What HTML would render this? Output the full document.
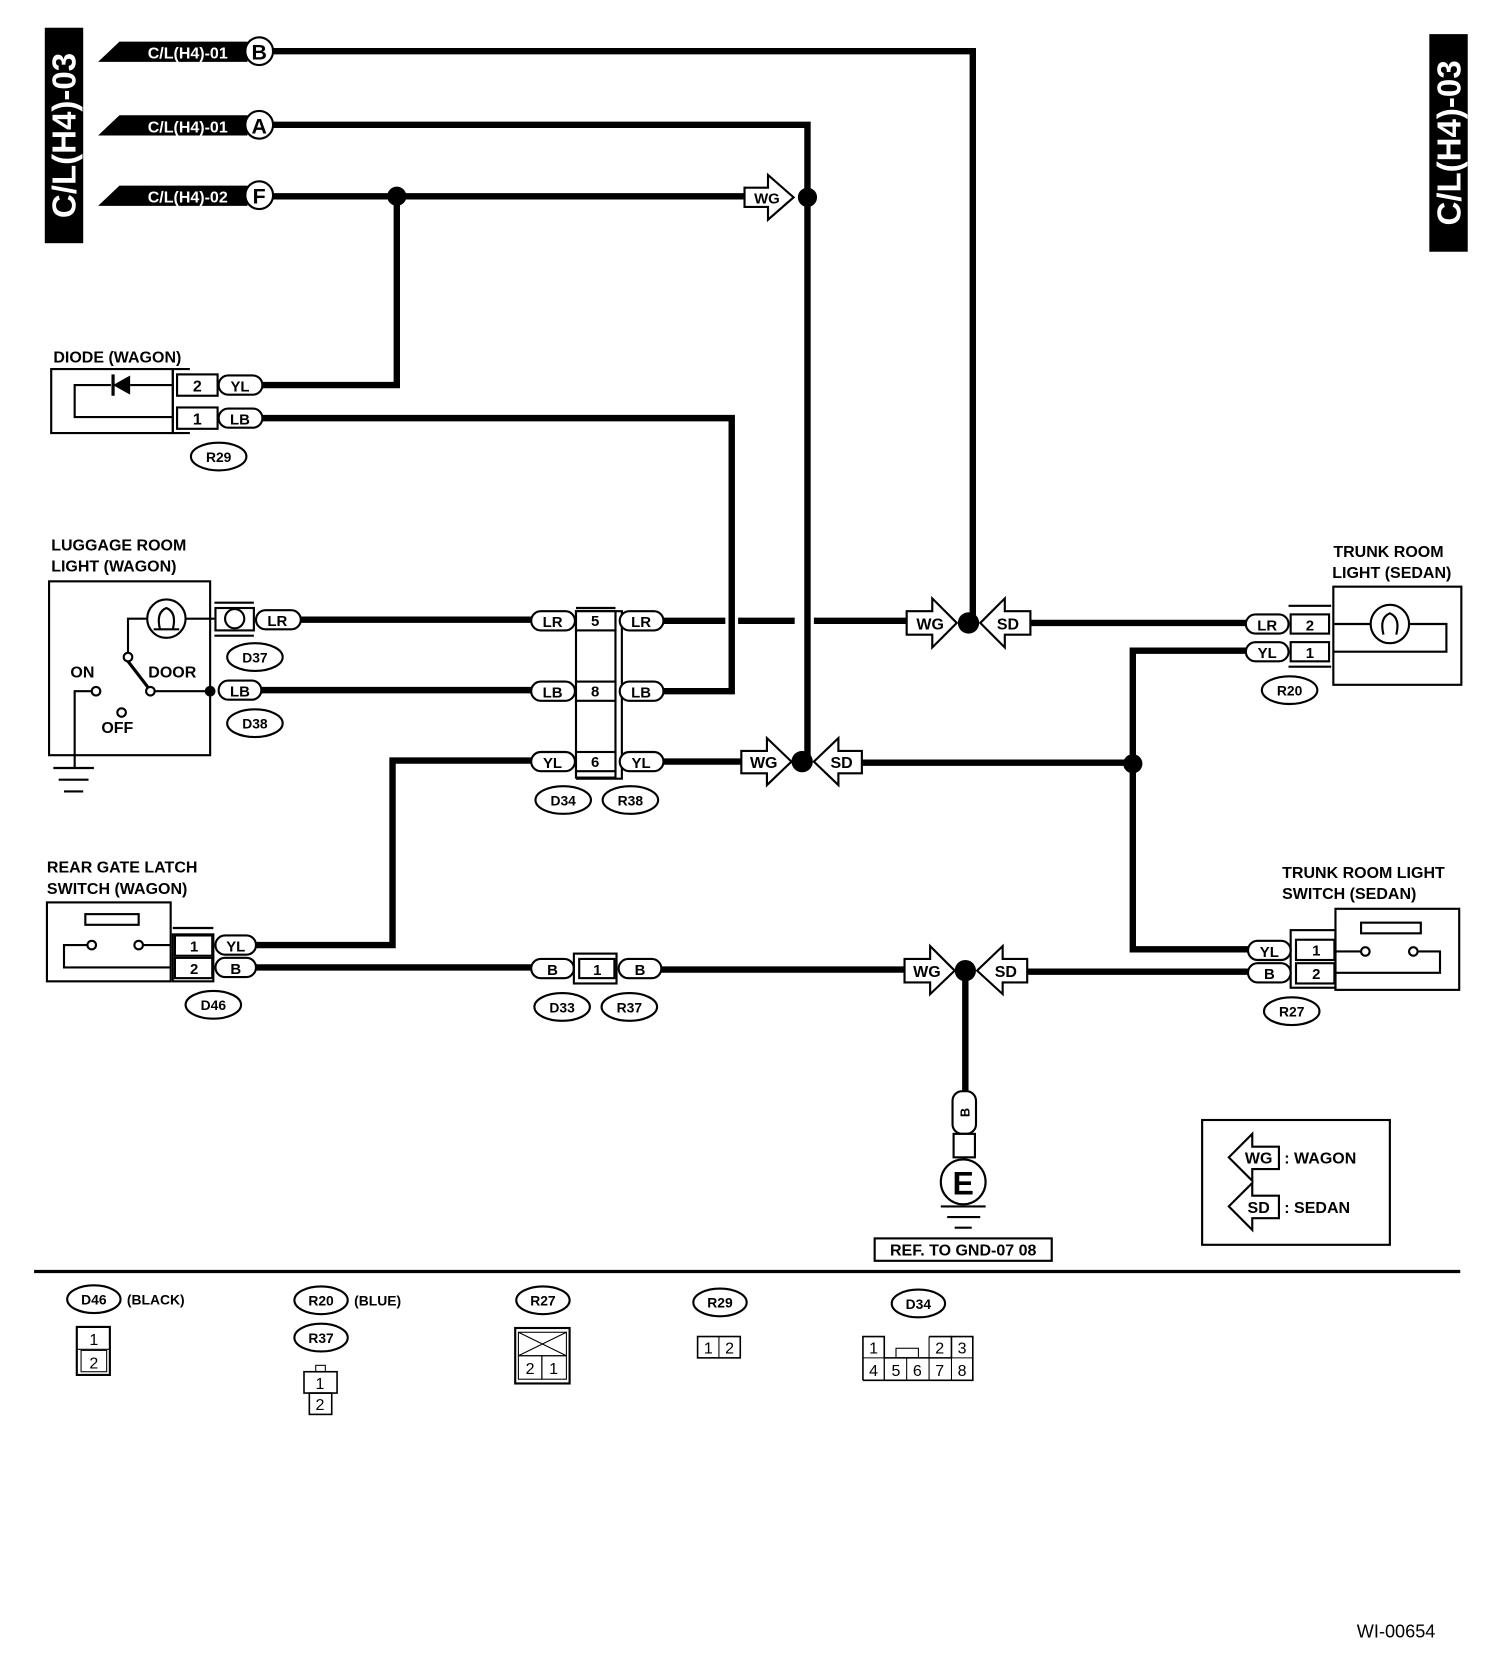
<!DOCTYPE html>
<html><head><meta charset="utf-8"><style>
html,body{margin:0;padding:0;background:#fff}
svg{display:block}
text{font-family:"Liberation Sans",Arial,sans-serif;font-weight:bold;fill:#000}
.p{fill:#fff;stroke:#000;stroke-width:2}
.w{fill:none;stroke:#000;stroke-width:6}
.t{fill:none;stroke:#000;stroke-width:2}
.n{font-weight:normal}
</style></head><body>
<svg width="1504" height="1668" viewBox="0 0 1410 1563.75" xmlns="http://www.w3.org/2000/svg">
<!-- side bars -->
<rect x="42" y="26" width="36" height="202" fill="#000"/>
<text transform="translate(71,127) rotate(-90)" text-anchor="middle" font-size="31" style="fill:#fff">C/L(H4)-03</text>
<rect x="1340" y="32" width="36" height="204" fill="#000"/>
<text transform="translate(1369,134) rotate(-90)" text-anchor="middle" font-size="31" style="fill:#fff">C/L(H4)-03</text>

<!-- flags -->
<g>
<polygon points="92,58 112,39 232,39 232,58" fill="#000"/>
<text x="176" y="55" text-anchor="middle" font-size="15" style="fill:#fff">C/L(H4)-01</text>
<circle cx="243" cy="48" r="13" class="p"/><text x="243" y="56" text-anchor="middle" font-size="20">B</text>
<polygon points="92,127 112,108 232,108 232,127" fill="#000"/>
<text x="176" y="124" text-anchor="middle" font-size="15" style="fill:#fff">C/L(H4)-01</text>
<circle cx="243" cy="117" r="13" class="p"/><text x="243" y="125" text-anchor="middle" font-size="20">A</text>
<polygon points="92,193 112,174 232,174 232,193" fill="#000"/>
<text x="176" y="190" text-anchor="middle" font-size="15" style="fill:#fff">C/L(H4)-02</text>
<circle cx="243" cy="183" r="13" class="p"/><text x="243" y="191" text-anchor="middle" font-size="20">F</text>
</g>

<!-- main wires -->
<polyline class="w" points="256,48 912,48 912,584"/>
<polyline class="w" points="256,117 757,117 757,714"/>
<polyline class="w" points="256,184 700,184"/>
<polyline class="w" points="372,184 372,361 245,361"/>
<polyline class="w" points="245,392 686,392 686,648 622,648"/>
<polyline class="w" points="282,581 498,581"/>
<polyline class="w" points="622,582 680,582"/>
<polyline class="w" points="692,582 745,582"/>
<polyline class="w" points="763,582 850,582"/>
<polyline class="w" points="965,584 1168,584"/>
<polyline class="w" points="245,647 498,647"/>
<polyline class="w" points="498,713 368,713 368,886 240,886"/>
<polyline class="w" points="622,714 695,714"/>
<polyline class="w" points="808,715 1062,715"/>
<polyline class="w" points="1168,610 1062,610 1062,890 1172,890"/>
<polyline class="w" points="240,907 498,907"/>
<polyline class="w" points="620,909 848,909"/>
<polyline class="w" points="962,911 1172,911"/>
<polyline class="w" points="905,911 905,1025"/>

<!-- dots -->
<circle cx="372" cy="184" r="9"/>
<circle cx="757" cy="185" r="9"/>
<circle cx="908" cy="584" r="10"/>
<circle cx="752" cy="714" r="10"/>
<circle cx="1062" cy="716" r="9"/>
<circle cx="905" cy="910" r="10"/>

<!-- WG/SD arrows -->
<g font-size="14">
<polygon class="p" points="698,176 720,176 720,164 744,185 720,206 720,194 698,194"/><text x="719" y="191" text-anchor="middle">WG</text>
<polygon class="p" points="850,573 874,573 874,561 897,584 874,607 874,595 850,595"/><text x="872" y="590" text-anchor="middle" font-size="15">WG</text>
<polygon class="p" points="966,573 942,573 942,561 919,584 942,607 942,595 966,595"/><text x="945" y="590" text-anchor="middle" font-size="15">SD</text>
<polygon class="p" points="695,704 719,704 719,692 742,714 719,736 719,725 695,725"/><text x="716" y="720" text-anchor="middle" font-size="15">WG</text>
<polygon class="p" points="808,704 786,704 786,692 763,714 786,736 786,725 808,725"/><text x="789" y="720" text-anchor="middle" font-size="15">SD</text>
<polygon class="p" points="848,899 872,899 872,887 895,910 872,932 872,921 848,921"/><text x="869" y="916" text-anchor="middle" font-size="15">WG</text>
<polygon class="p" points="963,899 940,899 940,887 916,910 940,932 940,921 963,921"/><text x="943" y="916" text-anchor="middle" font-size="15">SD</text>
</g>

<!-- Diode -->
<text x="50" y="340" font-size="15">DIODE (WAGON)</text>
<rect x="48" y="346" width="114" height="60" class="t"/>
<polyline class="t" points="162,406 162,346 178,346"/>
<polyline class="t" points="162,406 178,406"/>
<rect x="166" y="351" width="38" height="20" class="p"/><text x="185" y="367" text-anchor="middle" font-size="15">2</text>
<rect x="166" y="382" width="38" height="20" class="p"/><text x="185" y="398" text-anchor="middle" font-size="15">1</text>
<polyline class="t" points="162,391 70,391 70,361 104,361"/>
<polygon points="106,361 122,352 122,370"/>
<line x1="106" y1="351" x2="106" y2="371" stroke="#000" stroke-width="3"/>
<line x1="122" y1="361" x2="162" y2="361" stroke="#000" stroke-width="2"/>
<rect x="205" y="352" width="41" height="18" rx="9" class="p"/><text x="225" y="367" text-anchor="middle" font-size="14">YL</text>
<rect x="205" y="383" width="41" height="18" rx="9" class="p"/><text x="225" y="398" text-anchor="middle" font-size="14">LB</text>
<ellipse cx="205" cy="428" rx="26" ry="13" class="p"/><text x="205" y="433" text-anchor="middle" font-size="13">R29</text>

<!-- Luggage room -->
<text x="48" y="516" font-size="15">LUGGAGE ROOM</text>
<text x="48" y="536" font-size="15">LIGHT (WAGON)</text>
<rect x="46" y="545" width="151" height="163" class="t"/>
<circle cx="156" cy="580" r="18" class="t"/>
<path d="M150,590 Q146,574 156,570 Q166,574 162,590" class="t"/>
<path d="M144,590 L168,590" class="t"/>
<polyline class="t" points="138,580 120,580 120,612"/>
<line x1="174" y1="580" x2="201" y2="580" stroke="#000" stroke-width="2"/>
<circle cx="120" cy="616" r="4" class="p"/>
<line x1="120" y1="620" x2="140" y2="646" stroke="#000" stroke-width="3"/>
<circle cx="141" cy="648" r="4" class="p"/>
<line x1="145" y1="648" x2="197" y2="648" stroke="#000" stroke-width="2"/>
<circle cx="197" cy="648" r="5"/>
<circle cx="90" cy="648" r="4" class="p"/>
<polyline class="t" points="86,648 70,648 70,720"/>
<circle cx="114" cy="668" r="4" class="p"/>
<text x="66" y="635" font-size="15">ON</text>
<text x="139" y="635" font-size="15">DOOR</text>
<text x="95" y="687" font-size="15">OFF</text>
<line x1="50" y1="720" x2="88" y2="720" stroke="#000" stroke-width="2"/>
<line x1="55" y1="731" x2="83" y2="731" stroke="#000" stroke-width="2"/>
<line x1="60" y1="742" x2="78" y2="742" stroke="#000" stroke-width="2"/>
<polyline class="t" points="201,565 238,565"/>
<polyline class="t" points="201,596 238,596"/>
<rect x="202" y="570" width="36" height="21" class="p"/>
<circle cx="220" cy="580" r="9" class="t"/>
<rect x="240" y="572" width="42" height="18" rx="9" class="p"/><text x="260" y="587" text-anchor="middle" font-size="14">LR</text>
<ellipse cx="239" cy="616" rx="26" ry="13" class="p"/><text x="239" y="621" text-anchor="middle" font-size="13">D37</text>
<rect x="205" y="638" width="40" height="18" rx="9" class="p"/><text x="225" y="653" text-anchor="middle" font-size="14">LB</text>
<ellipse cx="239" cy="678" rx="26" ry="13" class="p"/><text x="239" y="683" text-anchor="middle" font-size="13">D38</text>

<!-- middle connector -->
<polyline class="t" points="540,570 577,570"/>
<rect x="540" y="573" width="37" height="156" class="t"/>
<polyline class="t" points="577,573 583,573 583,730 540,730"/>
<rect x="540" y="573" width="37" height="18" class="p"/><text x="558" y="587" text-anchor="middle" font-size="14">5</text>
<rect x="540" y="639" width="37" height="18" class="p"/><text x="558" y="653" text-anchor="middle" font-size="14">8</text>
<rect x="540" y="705" width="37" height="18" class="p"/><text x="558" y="719" text-anchor="middle" font-size="14">6</text>
<g font-size="14" text-anchor="middle">
<rect x="498" y="573" width="41" height="18" rx="9" class="p"/><text x="518" y="588">LR</text>
<rect x="581" y="573" width="41" height="18" rx="9" class="p"/><text x="601" y="588">LR</text>
<rect x="498" y="639" width="41" height="18" rx="9" class="p"/><text x="518" y="654">LB</text>
<rect x="581" y="639" width="41" height="18" rx="9" class="p"/><text x="601" y="654">LB</text>
<rect x="498" y="705" width="41" height="18" rx="9" class="p"/><text x="518" y="720">YL</text>
<rect x="581" y="705" width="41" height="18" rx="9" class="p"/><text x="601" y="720">YL</text>
</g>
<ellipse cx="528" cy="750" rx="26" ry="13" class="p"/><text x="528" y="755" text-anchor="middle" font-size="13">D34</text>
<ellipse cx="591" cy="750" rx="26" ry="13" class="p"/><text x="591" y="755" text-anchor="middle" font-size="13">R38</text>

<!-- trunk room light -->
<text x="1250" y="522" font-size="15">TRUNK ROOM</text>
<text x="1249" y="542" font-size="15">LIGHT (SEDAN)</text>
<rect x="1250" y="550" width="120" height="92" class="t"/>
<circle cx="1303" cy="585" r="18" class="t"/>
<path d="M1297,595 Q1293,579 1303,575 Q1313,579 1309,595" class="t"/>
<polyline class="t" points="1250,585 1285,585"/>
<polyline class="t" points="1321,585 1356,585 1356,611 1250,611"/>
<polyline class="t" points="1208,568 1248,568"/>
<polyline class="t" points="1208,625 1248,625"/>
<rect x="1210" y="576" width="36" height="18" class="p"/><text x="1228" y="591" text-anchor="middle" font-size="14">2</text>
<rect x="1210" y="602" width="36" height="18" class="p"/><text x="1228" y="617" text-anchor="middle" font-size="14">1</text>
<rect x="1168" y="576" width="40" height="18" rx="9" class="p"/><text x="1188" y="591" text-anchor="middle" font-size="14">LR</text>
<rect x="1168" y="602" width="40" height="18" rx="9" class="p"/><text x="1188" y="617" text-anchor="middle" font-size="14">YL</text>
<ellipse cx="1209" cy="647" rx="26" ry="13" class="p"/><text x="1209" y="652" text-anchor="middle" font-size="13">R20</text>

<!-- rear gate latch -->
<text x="44" y="818" font-size="15">REAR GATE LATCH</text>
<text x="44" y="838" font-size="15">SWITCH (WAGON)</text>
<rect x="44" y="846" width="116" height="74" class="t"/>
<rect x="80" y="857" width="50" height="10" class="t"/>
<circle cx="86" cy="886" r="4" class="p"/><circle cx="130" cy="886" r="4" class="p"/>
<polyline class="t" points="82,886 60,886 60,907 160,907"/>
<line x1="134" y1="886" x2="160" y2="886" stroke="#000" stroke-width="2"/>
<polyline class="t" points="162,870 200,870"/>
<rect x="162" y="876" width="38" height="44" class="t"/>
<rect x="164" y="877" width="35" height="19" class="p"/><text x="182" y="892" text-anchor="middle" font-size="14">1</text>
<rect x="164" y="898" width="35" height="19" class="p"/><text x="182" y="913" text-anchor="middle" font-size="14">2</text>
<rect x="202" y="877" width="38" height="18" rx="9" class="p"/><text x="221" y="892" text-anchor="middle" font-size="14">YL</text>
<rect x="202" y="898" width="38" height="18" rx="9" class="p"/><text x="221" y="913" text-anchor="middle" font-size="14">B</text>
<ellipse cx="200" cy="942" rx="26" ry="13" class="p"/><text x="200" y="947" text-anchor="middle" font-size="13">D46</text>

<!-- D33/R37 -->
<rect x="498" y="899" width="40" height="18" rx="9" class="p"/><text x="518" y="914" text-anchor="middle" font-size="14">B</text>
<rect x="538" y="894" width="40" height="28" class="t"/>
<rect x="543" y="899" width="33" height="18" class="p"/><text x="560" y="914" text-anchor="middle" font-size="14">1</text>
<rect x="580" y="899" width="40" height="18" rx="9" class="p"/><text x="600" y="914" text-anchor="middle" font-size="14">B</text>
<ellipse cx="527" cy="944" rx="26" ry="13" class="p"/><text x="527" y="949" text-anchor="middle" font-size="13">D33</text>
<ellipse cx="590" cy="944" rx="26" ry="13" class="p"/><text x="590" y="949" text-anchor="middle" font-size="13">R37</text>

<!-- trunk room light switch -->
<text x="1202" y="823" font-size="15">TRUNK ROOM LIGHT</text>
<text x="1202" y="843" font-size="15">SWITCH (SEDAN)</text>
<rect x="1252" y="852" width="116" height="76" class="t"/>
<rect x="1276" y="865" width="56" height="10" class="t"/>
<circle cx="1280" cy="892" r="4" class="p"/><circle cx="1325" cy="892" r="4" class="p"/>
<line x1="1252" y1="892" x2="1276" y2="892" stroke="#000" stroke-width="2"/>
<polyline class="t" points="1329,892 1350,892 1350,912 1252,912"/>
<rect x="1210" y="872" width="42" height="54" class="t"/>
<rect x="1215" y="881" width="36" height="19" class="p"/><text x="1234" y="896" text-anchor="middle" font-size="14">1</text>
<rect x="1215" y="903" width="36" height="19" class="p"/><text x="1234" y="918" text-anchor="middle" font-size="14">2</text>
<rect x="1170" y="882" width="40" height="18" rx="9" class="p"/><text x="1190" y="897" text-anchor="middle" font-size="14">YL</text>
<rect x="1170" y="903" width="40" height="18" rx="9" class="p"/><text x="1190" y="918" text-anchor="middle" font-size="14">B</text>
<ellipse cx="1211" cy="948" rx="26" ry="13" class="p"/><text x="1211" y="953" text-anchor="middle" font-size="13">R27</text>

<!-- ground E -->
<rect x="893" y="1023" width="22" height="40" rx="9" class="p"/>
<text transform="translate(909,1043) rotate(-90)" text-anchor="middle" font-size="12">B</text>
<rect x="894" y="1063" width="20" height="22" class="p"/>
<line x1="904" y1="1085" x2="904" y2="1088" stroke="#000" stroke-width="2"/>
<circle cx="903" cy="1108" r="21" class="p"/>
<text x="903" y="1120" text-anchor="middle" font-size="30">E</text>
<line x1="882" y1="1131" x2="924" y2="1131" stroke="#000" stroke-width="2"/>
<line x1="888" y1="1141" x2="919" y2="1141" stroke="#000" stroke-width="2"/>
<line x1="895" y1="1151" x2="911" y2="1151" stroke="#000" stroke-width="2"/>
<rect x="820" y="1161" width="166" height="21" class="t"/>
<text x="903" y="1177" text-anchor="middle" font-size="15">REF. TO GND-07 08</text>

<!-- legend -->
<rect x="1127" y="1050" width="176" height="117" class="t"/>
<polygon class="p" points="1199,1075 1174,1075 1174,1063 1152,1085 1174,1107 1174,1096 1199,1096"/>
<text x="1180" y="1091" text-anchor="middle" font-size="15">WG</text>
<text x="1204" y="1091" font-size="15">: WAGON</text>
<polygon class="p" points="1199,1121 1174,1121 1174,1109 1152,1131 1174,1153 1174,1142 1199,1142"/>
<text x="1180" y="1137" text-anchor="middle" font-size="15">SD</text>
<text x="1204" y="1137" font-size="15">: SEDAN</text>

<line x1="32" y1="1192" x2="1369" y2="1192" stroke="#000" stroke-width="3"/>

<!-- bottom connector views -->
<g font-size="13">
<ellipse cx="88" cy="1218" rx="25" ry="13" class="p"/><text x="88" y="1223" text-anchor="middle">D46</text>
<text x="119" y="1223">(BLACK)</text>
<rect x="72" y="1244" width="31" height="45" class="t"/><line x1="72" y1="1265" x2="103" y2="1265" stroke="#000" stroke-width="1"/>
<rect x="76" y="1266" width="24" height="20" class="t" style="stroke-width:1"/>
<text x="88" y="1261" text-anchor="middle" class="n" font-size="15">1</text><text x="88" y="1283" text-anchor="middle" class="n" font-size="15">2</text>

<ellipse cx="301" cy="1219" rx="25" ry="13" class="p"/><text x="301" y="1224" text-anchor="middle">R20</text>
<text x="332" y="1224">(BLUE)</text>
<ellipse cx="301" cy="1254" rx="25" ry="13" class="p"/><text x="301" y="1259" text-anchor="middle">R37</text>
<rect x="296" y="1280" width="9" height="6" class="t" style="stroke-width:1"/>
<rect x="285" y="1286" width="31" height="20" class="t" style="stroke-width:1.5"/>
<rect x="290" y="1306" width="21" height="20" class="t" style="stroke-width:1.5"/>
<text x="300" y="1302" text-anchor="middle" class="n" font-size="15">1</text><text x="300" y="1322" text-anchor="middle" class="n" font-size="15">2</text>

<ellipse cx="509" cy="1219" rx="25" ry="13" class="p"/><text x="509" y="1224" text-anchor="middle">R27</text>
<rect x="483" y="1245" width="51" height="52" class="t"/>
<rect x="486" y="1249" width="45" height="22" class="t" style="stroke-width:1"/>
<line x1="486" y1="1249" x2="531" y2="1271" stroke="#000" stroke-width="1"/><line x1="531" y1="1249" x2="486" y2="1271" stroke="#000" stroke-width="1"/>
<rect x="486" y="1271" width="22" height="22" class="t" style="stroke-width:1"/><rect x="508" y="1271" width="23" height="22" class="t" style="stroke-width:1"/>
<text x="497" y="1288" text-anchor="middle" class="n" font-size="15">2</text><text x="519" y="1288" text-anchor="middle" class="n" font-size="15">1</text>

<ellipse cx="675" cy="1221" rx="25" ry="13" class="p"/><text x="675" y="1226" text-anchor="middle">R29</text>
<rect x="654" y="1253" width="40" height="20" class="t" style="stroke-width:1.5"/>
<line x1="674" y1="1253" x2="674" y2="1273" stroke="#000" stroke-width="1"/>
<text x="664" y="1269" text-anchor="middle" class="n" font-size="15">1</text><text x="684" y="1269" text-anchor="middle" class="n" font-size="15">2</text>

<ellipse cx="861" cy="1222" rx="25" ry="13" class="p"/><text x="861" y="1227" text-anchor="middle">D34</text>
<polyline class="t" style="stroke-width:1.5" points="809,1294 809,1253 829,1253 829,1273 892,1273 892,1253 912,1253 912,1294 809,1294"/>
<polyline class="t" style="stroke-width:1" points="829,1273 829,1294 M849,1273"/>
<line x1="829" y1="1273" x2="829" y2="1294" stroke="#000" stroke-width="1"/>
<line x1="850" y1="1273" x2="850" y2="1294" stroke="#000" stroke-width="1"/>
<line x1="871" y1="1253" x2="871" y2="1294" stroke="#000" stroke-width="1"/>
<line x1="892" y1="1253" x2="892" y2="1294" stroke="#000" stroke-width="1"/>
<line x1="871" y1="1253" x2="892" y2="1253" stroke="#000" stroke-width="1.5"/>
<line x1="809" y1="1273" x2="912" y2="1273" stroke="#000" stroke-width="1"/>
<rect x="840" y="1264" width="21" height="9" class="t" style="stroke-width:1"/>
<g class="n" font-size="15" text-anchor="middle">
<text x="819" y="1269" class="n">1</text><text x="881" y="1269" class="n">2</text><text x="902" y="1269" class="n">3</text>
<text x="819" y="1290" class="n">4</text><text x="840" y="1290" class="n">5</text><text x="860" y="1290" class="n">6</text><text x="881" y="1290" class="n">7</text><text x="902" y="1290" class="n">8</text>
</g>
</g>

<text x="1272" y="1535" class="n" font-size="17">WI-00654</text>
</svg>
</body></html>
